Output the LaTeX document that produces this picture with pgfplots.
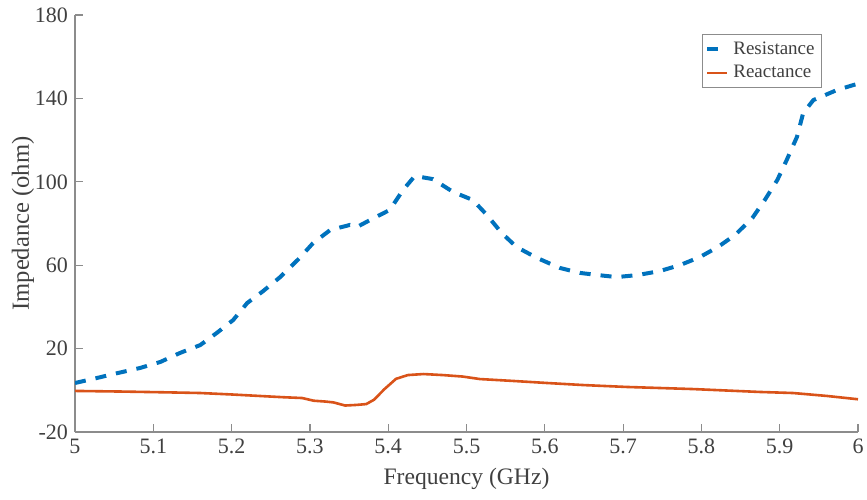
\documentclass[border=0pt]{standalone}
\usepackage{pgfplots}
\pgfplotsset{compat=1.18}
\usepackage{fontspec}
\setmainfont{Liberation Serif}
\definecolor{resblue}{RGB}{0,114,189}
\definecolor{reacorange}{RGB}{217,83,25}
\definecolor{axgray}{RGB}{140,140,140}
\definecolor{txtgray}{RGB}{64,64,64}

\begin{document}
\begin{tikzpicture}
  \begin{axis}[
    scale only axis,
    width=391.5pt, height=208.5pt,
    xmin=5, xmax=6, ymin=-20, ymax=180,
    xtick={5,5.1,...,6.01},
    ytick={-20,20,60,100,140,180},
    xticklabels={5,5.1,5.2,5.3,5.4,5.5,5.6,5.7,5.8,5.9,6},
    axis x line*=bottom, axis y line*=left,
    axis line style={axgray, line width=0.6pt},
    tick style={axgray, line width=0.6pt},
    tick align=inside, major tick length=4pt,
    /pgf/number format/assume math mode=true,
    tick label style={font=\fontsize{11}{12}\selectfont, text=txtgray},
    xlabel={Frequency (GHz)},
    ylabel={Impedance (ohm)},
    every axis x label/.style={at={(axis description cs:0.5,-0.112)}, anchor=center,
      font=\fontsize{11.8}{14}\selectfont, text=txtgray},
    every axis y label/.style={at={(axis description cs:-0.0664,0.5)}, rotate=90, anchor=center,
      font=\fontsize{12.3}{14}\selectfont, text=txtgray},
    legend style={at={(0.954,0.954)}, anchor=north east,
      draw=axgray, font=\fontsize{9.5}{10.5}\selectfont, text=txtgray,
      inner sep=1.5pt, row sep=0pt, cells={anchor=west}},
    legend image code/.code={\draw[#1] (0pt,0pt) -- (10pt,0pt);},
  ]
  \addplot[color=resblue, line width=2pt, dash pattern=on 5.5pt off 5pt, mark=none]
    coordinates {
      (5.000,3.5) (5.028,5.9) (5.049,7.8) (5.083,10.7) (5.109,13.6)
      (5.134,17.9) (5.160,21.7) (5.181,27.5) (5.202,33.7) (5.220,41.9)
      (5.240,47.5) (5.262,54.3) (5.287,63.5) (5.304,70.6) (5.326,76.9)
      (5.351,79.3) (5.360,78.3) (5.377,81.7) (5.402,86.5) (5.419,96.1)
      (5.434,102.8) (5.457,101.3) (5.483,95.1) (5.508,91.3) (5.526,84.1)
      (5.545,75.4) (5.564,68.7) (5.590,63.5) (5.619,58.7) (5.645,56.3)
      (5.667,55.3) (5.692,54.3) (5.719,55.3) (5.747,57.2) (5.773,60.1)
      (5.798,63.9) (5.821,68.7) (5.843,74.5) (5.865,82.6) (5.881,91.3)
      (5.897,100.9) (5.909,110.5) (5.922,121.5) (5.930,133.0) (5.943,139.2)
      (5.973,144.0) (5.994,146.4) (6.000,147.0)
    };
  \addlegendentry{Resistance}

  \addplot[color=reacorange, line width=1.3pt, mark=none]
    coordinates {
      (5.000,-0.3) (5.060,-0.6) (5.120,-1.0) (5.160,-1.3) (5.200,-2.0)
      (5.230,-2.6) (5.265,-3.3) (5.290,-3.7) (5.305,-5.0) (5.320,-5.4)
      (5.330,-5.8) (5.345,-7.3) (5.360,-7.0) (5.372,-6.6) (5.382,-4.5)
      (5.395,0.5) (5.410,5.5) (5.425,7.3) (5.445,7.8) (5.470,7.3)
      (5.495,6.6) (5.517,5.4) (5.559,4.5) (5.603,3.5) (5.650,2.5)
      (5.705,1.6) (5.789,0.6) (5.875,-0.8) (5.917,-1.3) (5.960,-2.7)
      (6.000,-4.3)
    };
  \addlegendentry{Reactance}
  \end{axis}
  \pgfresetboundingbox
  \path[use as bounding box] (-37.5pt,-33.5pt) rectangle (396pt,216pt);
\end{tikzpicture}
\end{document}
